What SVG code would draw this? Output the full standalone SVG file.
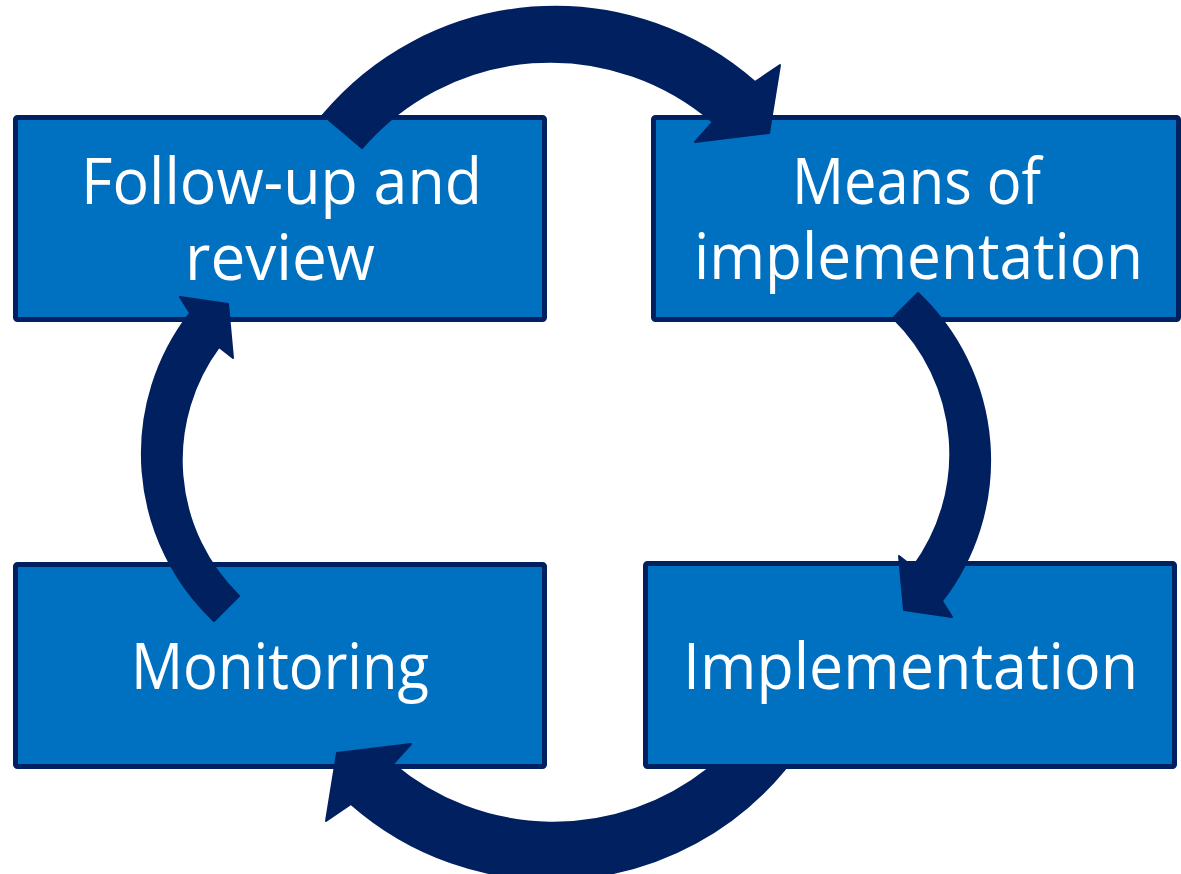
<svg xmlns="http://www.w3.org/2000/svg" width="1181" height="874" viewBox="0 0 1181 874">
<style>
.box{fill:#0070C0;stroke:#002060;stroke-width:5}
.lbl{fill:#FFFFFF;font-family:"Open Sans","Noto Sans","Liberation Sans",sans-serif;font-size:64px}
.arr{fill:#002060;stroke:#002060;stroke-width:2;stroke-linejoin:round}
</style>
<rect width="1181" height="874" fill="#FFFFFF"/>
<g id="node-followup">
<rect class="box" x="15.5" y="117.5" width="529" height="202" rx="2"/>
<text class="lbl" x="81" y="204" textLength="401" lengthAdjust="spacingAndGlyphs">Follow-up and</text>
<text class="lbl" x="185" y="280" textLength="190" lengthAdjust="spacingAndGlyphs">review</text>
</g>
<g id="node-means">
<rect class="box" x="653.5" y="117.5" width="525" height="202" rx="2"/>
<text class="lbl" x="792" y="204" textLength="249" lengthAdjust="spacingAndGlyphs">Means of</text>
<text class="lbl" x="694" y="279" textLength="449" lengthAdjust="spacingAndGlyphs">implementation</text>
</g>
<g id="node-monitoring">
<rect class="box" x="15.5" y="564.5" width="529" height="202" rx="2"/>
<text class="lbl" x="131" y="689" textLength="298" lengthAdjust="spacingAndGlyphs">Monitoring</text>
</g>
<g id="node-implementation">
<rect class="box" x="645.5" y="563.5" width="529" height="203" rx="2"/>
<text class="lbl" x="683" y="689" textLength="455" lengthAdjust="spacingAndGlyphs">Implementation</text>
</g>
<g id="connectors">
<path class="arr" d="M323,115 A303,303 0 0 1 755,82 L780,65 L769,133 L695,142 L713,122 A249,249 0 0 0 362,148 Z"/>
<path class="arr" d="M918,293 A230,230 0 0 1 942,601 L952,617 L904,610 L899,556 L913,567 A190,190 0 0 0 893,318 Z"/>
<path class="arr" d="M785,769 A303,303 0 0 1 351,804 L326,821 L337,753 L411,744 L393,764 A249,249 0 0 0 708,769 Z"/>
<path class="arr" d="M214,621 A230,230 0 0 1 190,313 L180,297 L228,304 L233,358 L219,347 A190,190 0 0 0 239,596 Z"/>
</g>
</svg>
